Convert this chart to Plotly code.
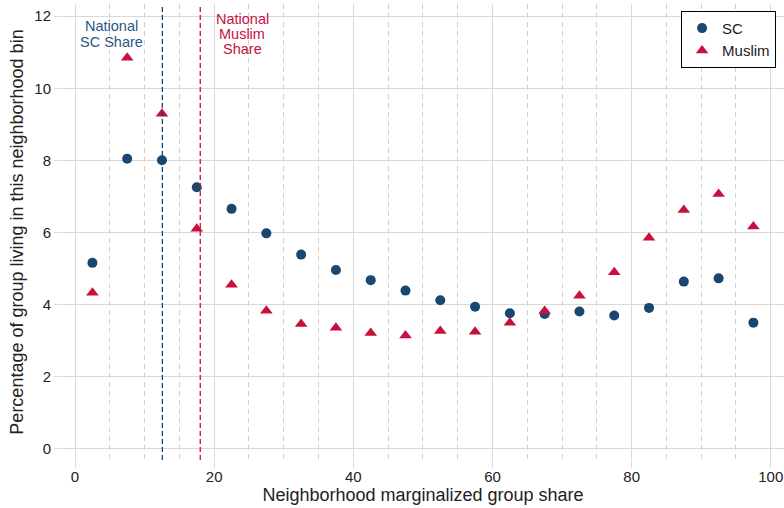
import plotly.graph_objects as go

# bin midpoints (neighborhood marginalized group share, %)
bins = [2.5, 7.5, 12.5, 17.5, 22.5, 27.5, 32.5, 37.5, 42.5, 47.5,
        52.5, 57.5, 62.5, 67.5, 72.5, 77.5, 82.5, 87.5, 92.5, 97.5]

sc_pct = [5.15, 8.04, 8.00, 7.25, 6.65, 5.97, 5.38, 4.95, 4.67, 4.38,
          4.11, 3.93, 3.75, 3.73, 3.80, 3.69, 3.90, 4.63, 4.72, 3.49]

muslim_pct = [4.32, 10.85, 9.29, 6.10, 4.54, 3.82, 3.45, 3.35, 3.20, 3.13,
              3.26, 3.24, 3.49, 3.81, 4.24, 4.89, 5.85, 6.62, 7.06, 6.16]

national_sc = 12.55
national_muslim = 18.0

sc_label = ["National", "SC Share"]
muslim_label = ["National", "Muslim", "Share"]

navy = "#1a476f"
red = "#c8103c"
font = "Liberation Sans, Arial, sans-serif"

fig = go.Figure()

fig.add_trace(go.Scatter(
    x=bins, y=sc_pct, mode="markers", name="SC",
    marker=dict(symbol="circle", size=10, color=navy)
))
fig.add_trace(go.Scatter(
    x=bins, y=muslim_pct, mode="markers", name="Muslim",
    marker=dict(symbol="triangle-up", size=11, color=red)
))

# national share reference lines
fig.add_shape(type="line", xref="x", yref="paper", x0=national_sc, x1=national_sc,
              y0=0, y1=1, line=dict(color=navy, width=1.3, dash="5px,3px"))
fig.add_shape(type="line", xref="x", yref="paper", x0=national_muslim, x1=national_muslim,
              y0=0, y1=1, line=dict(color=red, width=1.3, dash="5px,3px"))

# labels, one annotation per line to keep the tight line spacing
for i, line in enumerate(sc_label):
    fig.add_annotation(x=5.2, y=11.72 - 0.43 * i, text=line, showarrow=False,
                       font=dict(family=font, size=14.5, color="#2a5783"), yanchor="middle")
for i, line in enumerate(muslim_label):
    fig.add_annotation(x=24.0, y=11.91 - 0.41 * i, text=line, showarrow=False,
                       font=dict(family=font, size=14.5, color=red), yanchor="middle")

fig.update_layout(
    width=784, height=508,
    margin=dict(l=62, r=0, t=4, b=48, autoexpand=False),
    plot_bgcolor="white", paper_bgcolor="white",
    font=dict(family=font, size=15, color="#222222"),
    showlegend=True,
    legend=dict(x=0.989, y=0.985, xanchor="right", yanchor="top",
                bgcolor="white", bordercolor="black", borderwidth=1,
                font=dict(size=15, color="#222222")),
)

fig.update_xaxes(
    range=[-1.87, 101.9], tickvals=[0, 20, 40, 60, 80, 100],
    showgrid=True, gridcolor="#d9d9d9", gridwidth=1.3,
    ticks="outside", ticklen=7, tickcolor="#d9d9d9", tickwidth=1.3,
    ticklabelstandoff=-4,
    minor=dict(dtick=5, tick0=0, showgrid=True, gridcolor="#d0d0d0",
               griddash="5px,4px", gridwidth=1),
    zeroline=False, showline=False, automargin=False,
    title=dict(text="Neighborhood marginalized group share", standoff=0),
)
fig.update_yaxes(
    range=[-0.325, 12.34], tickvals=[0, 2, 4, 6, 8, 10, 12],
    showgrid=True, gridcolor="#d9d9d9", gridwidth=1.3,
    ticks="outside", ticklen=7, tickcolor="#d9d9d9", tickwidth=1.3,
    zeroline=False, showline=False, automargin=False,
    title=dict(text="Percentage of group living in this neighborhood bin", standoff=6),
)

# drop the browser's default page margin so the figure sits at the window's corner
fig.write_html("out.html", config={"displayModeBar": False},
               post_script="document.body.style.margin = '0';")
